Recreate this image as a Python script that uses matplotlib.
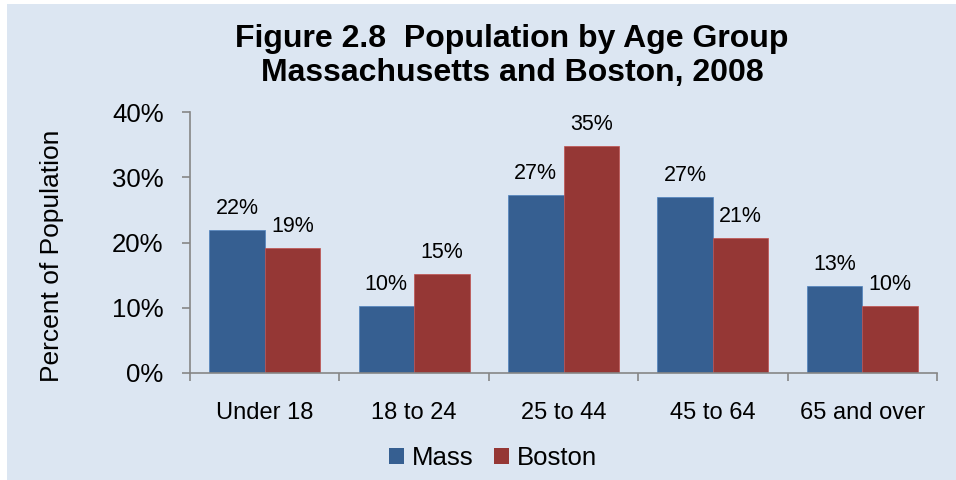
import matplotlib
matplotlib.use("Agg")
import matplotlib.pyplot as plt
import numpy as np
from matplotlib.patches import Rectangle, Patch

categories = ["Under 18", "18 to 24", "25 to 44", "45 to 64", "65 and over"]
mass = [21.9, 10.3, 27.3, 26.9, 13.3]
boston = [19.1, 15.2, 34.8, 20.7, 10.2]
mass_labels = ["22%", "10%", "27%", "27%", "13%"]
boston_labels = ["19%", "15%", "35%", "21%", "10%"]
yticks = [0, 10, 20, 30, 40]
ytick_labels = ["0%", "10%", "20%", "30%", "40%"]

plt.rcParams['font.family'] = ['Liberation Sans', 'DejaVu Sans']

W, H = 956, 480
fig = plt.figure(figsize=(W/100, H/100), dpi=100)
fig.patch.set_facecolor("white")
bg = "#DCE6F2"
fig.patches.append(Rectangle((7/W, 0), 1 - 7/W, 1 - 4/H, transform=fig.transFigure,
                             facecolor=bg, edgecolor="none", zorder=-10))

ax_left, ax_right = 190/W, 937/W
ax_bottom, ax_top = 1 - 373/H, 1 - 112/H
ax = fig.add_axes([ax_left, ax_bottom, ax_right - ax_left, ax_top - ax_bottom])
ax.set_facecolor("none")

blue = "#365F91"
red = "#953735"
x = np.arange(len(categories))
bw = 0.372
ax.bar(x - bw/2, mass, width=bw, color=blue, edgecolor="#4F81BD", linewidth=0.5, label="Mass")
ax.bar(x + bw/2, boston, width=bw, color=red, edgecolor="#C0504D", linewidth=0.5, label="Boston")

for i in range(len(categories)):
    ax.text(x[i] - bw/2, mass[i] + 1.7, mass_labels[i], ha="center", va="bottom", fontsize=15.5)
    ax.text(x[i] + bw/2, boston[i] + 1.7, boston_labels[i], ha="center", va="bottom", fontsize=15.5)

ax.set_xlim(-0.5, len(categories) - 0.5)
ax.set_ylim(0, 40)
ax.set_yticks(yticks)
ax.set_yticklabels(ytick_labels, fontsize=18.5)
ax.set_xticks(np.arange(len(categories) + 1) - 0.5)
ax.set_xticklabels([])
ax.set_xticks(x, minor=True)
ax.set_xticklabels(categories, minor=True, fontsize=17)
ax.tick_params(axis="x", which="minor", length=0, pad=21)
ax.tick_params(axis="x", which="major", length=6, color="#868686", width=1.2)
ax.tick_params(axis="y", length=6, color="#868686", width=1.2, pad=13)
for s in ["top", "right"]:
    ax.spines[s].set_visible(False)
for s in ["left", "bottom"]:
    ax.spines[s].set_color("#868686")
    ax.spines[s].set_linewidth(1.2)

fig.text(52/W, 1 - 256/H, "Percent of Population", rotation=90, ha="center", va="center", fontsize=19)

fig.text(512/W, 1 - 56/H, "Figure 2.8  Population by Age Group\nMassachusetts and Boston, 2008",
         ha="center", va="center", fontsize=23, fontweight="bold", linespacing=1.16)

handles = [Patch(facecolor=blue, edgecolor="none", label="Mass"),
           Patch(facecolor=red, edgecolor="none", label="Boston")]
fig.legend(handles=handles, loc="center", bbox_to_anchor=(493/W, 1 - 458/H), ncol=2, frameon=False,
           fontsize=18.5, handlelength=0.6, handleheight=0.6, handletextpad=0.3, columnspacing=0.8)

fig.savefig("out.png", dpi=100, facecolor=fig.get_facecolor())
